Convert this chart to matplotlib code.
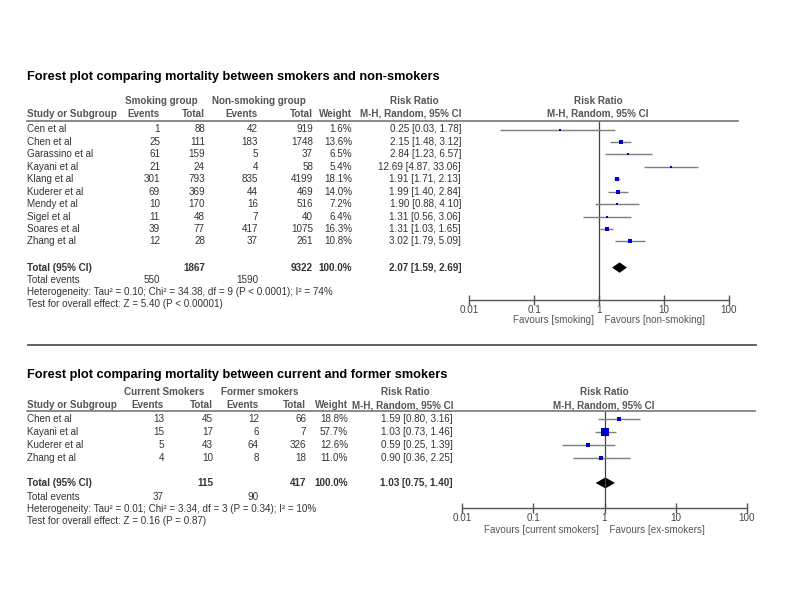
import matplotlib
matplotlib.use("Agg")
import matplotlib.pyplot as plt
from matplotlib.lines import Line2D
from matplotlib.transforms import blended_transform_factory

plt.rcParams['font.family'] = ['Liberation Sans', 'DejaVu Sans']

# --- data : smokers vs non-smokers ---
studies1 = ["Cen et al", "Chen et al", "Garassino et al", "Kayani et al", "Klang et al",
            "Kuderer et al", "Mendy et al", "Sigel et al", "Soares et al", "Zhang et al"]
events_smk = [1, 25, 61, 21, 301, 69, 10, 11, 39, 12]
total_smk = [88, 111, 159, 24, 793, 369, 170, 48, 77, 28]
events_non = [42, 183, 5, 4, 835, 44, 16, 7, 417, 37]
total_non = [919, 1748, 37, 58, 4199, 469, 516, 40, 1075, 261]
weight1 = [1.6, 13.6, 6.5, 5.4, 18.1, 14.0, 7.2, 6.4, 16.3, 10.8]
rr1 = [0.25, 2.15, 2.84, 12.69, 1.91, 1.99, 1.90, 1.31, 1.31, 3.02]
lo1 = [0.03, 1.48, 1.23, 4.87, 1.71, 1.40, 0.88, 0.56, 1.03, 1.79]
hi1 = [1.78, 3.12, 6.57, 33.06, 2.13, 2.84, 4.10, 3.06, 1.65, 5.09]
pooled1 = (2.07, 1.59, 2.69)
sums1 = (1867, 9322, 550, 1590)
het1 = "Heterogeneity: Tau² = 0.10; Chi² = 34.38, df = 9 (P < 0.0001); I² = 74%"
test1 = "Test for overall effect: Z = 5.40 (P < 0.00001)"

# --- data : current vs former smokers ---
studies2 = ["Chen et al", "Kayani et al", "Kuderer et al", "Zhang et al"]
events_cur = [13, 15, 5, 4]
total_cur = [45, 17, 43, 10]
events_form = [12, 6, 64, 8]
total_form = [66, 7, 326, 18]
weight2 = [18.8, 57.7, 12.6, 11.0]
rr2 = [1.59, 1.03, 0.59, 0.90]
lo2 = [0.80, 0.73, 0.25, 0.36]
hi2 = [3.16, 1.46, 1.39, 2.25]
pooled2 = (1.03, 0.75, 1.40)
sums2 = (115, 417, 37, 90)
het2 = "Heterogeneity: Tau² = 0.01; Chi² = 3.34, df = 3 (P = 0.34); I² = 10%"
test2 = "Test for overall effect: Z = 0.16 (P = 0.87)"

ticks = [0.01, 0.1, 1, 10, 100]
tick_labels = ["0.01", "0.1", "1", "10", "100"]

W, H = 800, 600
fig = plt.figure(figsize=(8, 6), dpi=100)
fig.patch.set_facecolor("white")

TXT = "#333333"
HDR = "#555555"
FS = 7.1


def px(x, y):
    return x / W, 1 - y / H


def put(x, y, s, ha="left", bold=False, color=TXT, size=FS):
    fig.text(*px(x, y), s, ha=ha, va="center", fontsize=size, color=color,
             fontweight="bold" if bold else "normal")


def hline(x0, x1, y, color="#777777", lw=1.2):
    fig.add_artist(Line2D([x0 / W, x1 / W], [1 - y / H, 1 - y / H],
                          transform=fig.transFigure, color=color, lw=lw))


def section(L, title, groups, studies, ev_a, tot_a, ev_b, tot_b, weights,
            rr, lo, hi, pooled, sums, het, test, fav):
    put(27, L["title"], title, bold=True, color="black", size=9.2)
    # group headers (two arms + risk ratio column)
    for name, cx in zip(groups + ["Risk Ratio"], L["group_x"]):
        put(cx, L["group_y"], name, ha="center", bold=True, color=HDR)
    put(L["plot_c"], L["group_y"], "Risk Ratio", ha="center", bold=True, color=HDR)
    hy = L["head_y"]
    put(27, hy, "Study or Subgroup", bold=True, color=HDR)
    c = L["cols"]
    for lab, cx in zip(["Events", "Total", "Events", "Total", "Weight", "M-H, Random, 95% CI"], c):
        put(cx, hy, lab, ha="right", bold=True, color=HDR)
    put(L["plot_c"], hy, "M-H, Random, 95% CI", ha="center", bold=True, color=HDR)
    hline(27, L["line_end"], L["line_y"])

    def row_y(i):
        return L["row0"] + i * L["step"]

    for i, name in enumerate(studies):
        y = row_y(i)
        put(27, y, name)
        vals = [str(ev_a[i]), str(tot_a[i]), str(ev_b[i]), str(tot_b[i]),
                f"{weights[i]:.1f}%", f"{rr[i]:.2f} [{lo[i]:.2f}, {hi[i]:.2f}]"]
        for v, cx in zip(vals, c):
            put(cx, y, v, ha="right")
    ty = row_y(L["tot_row"])
    put(27, ty, "Total (95% CI)", bold=True)
    put(c[1], ty, str(sums[0]), ha="right", bold=True)
    put(c[3], ty, str(sums[1]), ha="right", bold=True)
    put(c[4], ty, "100.0%", ha="right", bold=True)
    put(c[5], ty, f"{pooled[0]:.2f} [{pooled[1]:.2f}, {pooled[2]:.2f}]", ha="right", bold=True)
    put(27, L["ev_y"], "Total events")
    put(c[0], L["ev_y"], str(sums[2]), ha="right")
    put(c[2], L["ev_y"], str(sums[3]), ha="right")
    put(27, L["ev_y"] + L["note_step"], het)
    put(27, L["ev_y"] + 2 * L["note_step"], test)

    # forest axes
    x0, x1 = L["ax_x"]
    top, bot = L["line_y"], L["axis_y"]
    ax = fig.add_axes([x0 / W, 1 - bot / H, (x1 - x0) / W, (bot - top) / H])
    ax.set_xscale("log")
    ax.set_xlim(0.01, 100)
    ax.set_ylim((bot - L["row0"]) / L["step"], (top - L["row0"]) / L["step"])
    ax.patch.set_alpha(0)
    for s in ["top", "left", "right"]:
        ax.spines[s].set_visible(False)
    ax.spines["bottom"].set_color("#555555")
    ax.spines["bottom"].set_linewidth(1.0)
    ax.set_yticks([])
    ax.set_xticks(ticks)
    ax.set_xticklabels(tick_labels)
    ax.minorticks_off()
    ax.tick_params(axis="x", direction="inout", length=7, width=1.0, color="#555555",
                   labelsize=FS, labelcolor="#444444", pad=0)
    ax.axvline(1, color="#444444", lw=0.9)

    for i in range(len(studies)):
        ax.plot([lo[i], hi[i]], [i, i], color="#7f7f7f", lw=1.0, solid_capstyle="butt")
        side = max(2.4, 1.1 * weights[i] ** 0.5)
        ax.plot(rr[i], i, marker="s", color="#0000cc", markersize=side * 0.72,
                markeredgewidth=0)
    r = L["tot_row"]
    h = L["dia_h"]
    ax.fill([pooled[1], pooled[0], pooled[2], pooled[0]], [r, r - h, r, r + h],
            color="black", lw=0)

    tr = blended_transform_factory(ax.transData, fig.transFigure)
    fy = 1 - L["fav_y"] / H
    ax.text(1, fy, fav[0] + "  ", transform=tr, ha="right", va="center",
            fontsize=FS, color="#555555")
    ax.text(1, fy, "  " + fav[1], transform=tr, ha="left", va="center",
            fontsize=FS, color="#555555")


L1 = dict(title=77, group_y=101, head_y=114, line_y=121, line_end=738,
          group_x=[161, 259, 414], plot_c=598,
          cols=[160, 205, 258, 313, 352, 461],
          row0=129.5, step=12.44, tot_row=11.1, ev_y=280, note_step=11.8,
          ax_x=(469, 729), axis_y=300, fav_y=320, dia_h=0.42)
section(L1, "Forest plot comparing mortality between smokers and non-smokers",
        ["Smoking group", "Non-smoking group"], studies1, events_smk, total_smk,
        events_non, total_non, weight1, rr1, lo1, hi1, pooled1, sums1, het1, test1,
        ["Favours [smoking]", "Favours [non-smoking]"])

hline(28, 756, 345, color="#555555", lw=1.3)

L2 = dict(title=375, group_y=392, head_y=405, line_y=411, line_end=755,
          group_x=[164, 260, 405], plot_c=604,
          cols=[164, 213, 259, 306, 348, 453],
          row0=419, step=13.0, tot_row=4.92, ev_y=497, note_step=12,
          ax_x=(462, 747), axis_y=508, fav_y=530, dia_h=0.42)
section(L2, "Forest plot comparing mortality between current and former smokers",
        ["Current Smokers", "Former smokers"], studies2, events_cur, total_cur,
        events_form, total_form, weight2, rr2, lo2, hi2, pooled2, sums2, het2, test2,
        ["Favours [current smokers]", "Favours [ex-smokers]"])

fig.savefig("out.png", dpi=100, facecolor="white")
